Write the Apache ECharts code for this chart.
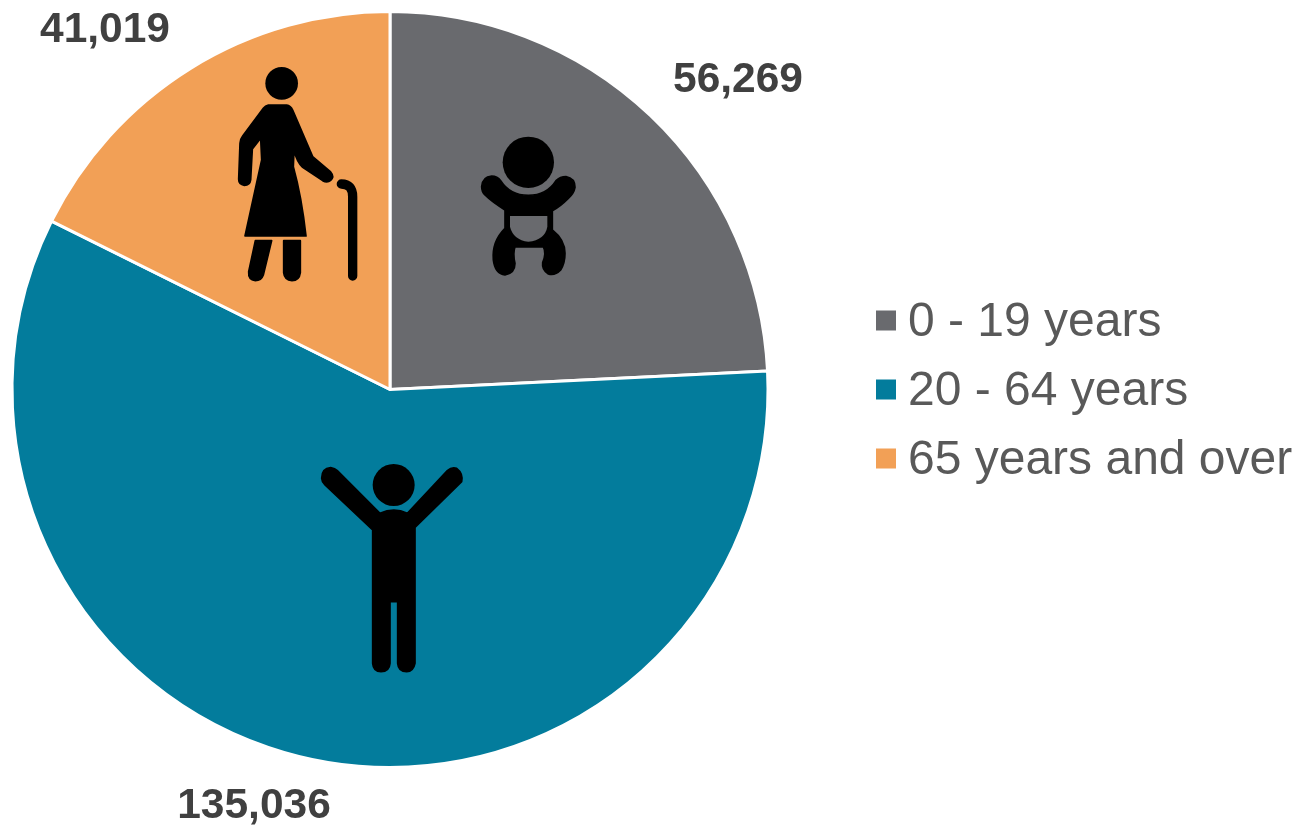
<!DOCTYPE html>
<html>
<head>
<meta charset="utf-8">
<style>html,body{margin:0;padding:0;background:#fff}#c{width:1310px;height:827px}</style>
<script src="https://cdn.jsdelivr.net/npm/echarts@6/dist/echarts.min.js"></script>
</head>
<body>
<div id="c"></div>
<script>
const categories = ['0 - 19 years', '20 - 64 years', '65 years and over'];
const values = [56269, 135036, 41019];
const colors = ['#696A6E', '#037C9C', '#F2A056'];
const labelSpots = [[738, 80], [254, 806], [105, 30]];

const fontFamily = '"Liberation Sans", Arial, sans-serif';
const black = '#000';
const iconZ = 50;
const iconStyle = { fill: black, stroke: black, lineWidth: 5, lineJoin: 'round' };

const iconPaths = {
  elderBody: 'M145 165 L200 165 Q212 167 218 180 L278 320 L332 366 Q344 380 332 391 Q322 400 308 392 L248 352 Q230 335 222 300 L220 350 Q245 440 258 558 L75 558 L125 330 L122 265 L97 297 L92 390 Q90 406 73 406 Q56 404 56 388 L60 280 Q60 268 68 258 L130 175 Q136 167 145 165 Z',
  elderLegL: 'M106 572 L155 572 L130 675 Q124 692 106 692 Q84 690 86 665 Z',
  elderLegR: 'M191 572 L241 572 L241 668 Q238 692 216 692 Q193 690 191 668 Z',
  elderCane: 'M364 402 Q398 402 398 440 L398 678',
  babyBody: 'M785 410 Q787 380 815 378 Q832 378 842 392 Q870 436 925 436 Q980 436 1008 392 Q1020 380 1038 380 Q1065 385 1065 412 Q1062 430 1045 445 Q1020 470 997 482 L997 540 Q1035 570 1035 610 Q1035 640 1022 660 Q1005 678 985 672 Q965 660 968 638 Q980 610 970 590 Q925 592 885 590 Q878 610 885 640 Q885 670 855 675 Q825 672 820 630 Q815 575 855 535 L855 480 Q815 455 795 435 Q785 425 785 410 Z',
  babyDiaper: 'M870 498 L982 498 L982 530 Q975 570 925 575 Q880 570 870 530 Z',
  adultBody: 'M65 85 Q65 55 92 53 Q105 55 112 62 L240 190 Q282 170 322 190 L442 62 Q455 50 470 55 Q490 70 485 95 L345 232 L345 640 Q340 665 320 665 Q295 665 293 640 L293 455 L270 455 L270 640 Q268 665 243 665 Q220 665 218 640 L218 240 L75 105 Q65 95 65 85 Z'
};
Object.keys(iconPaths).forEach(name => {
  echarts.graphic.registerShape(name, echarts.graphic.extendPath(iconPaths[name], {}));
});

const elderIcon = {
  type: 'group', x: 220, y: 50, scaleX: 1 / 3, scaleY: 1 / 3, silent: true,
  children: [
    { type: 'circle', z: iconZ, shape: { cx: 185, cy: 100, r: 49 }, style: { fill: black } },
    { type: 'elderBody', z: iconZ, style: iconStyle },
    { type: 'elderLegL', z: iconZ, style: iconStyle },
    { type: 'elderLegR', z: iconZ, style: iconStyle },
    { type: 'elderCane', z: iconZ, style: { fill: 'none', stroke: black, lineWidth: 28, lineCap: 'round' } }
  ]
};
const babyIcon = {
  type: 'group', x: 220, y: 50, scaleX: 1 / 3, scaleY: 1 / 3, silent: true,
  children: [
    { type: 'circle', z: iconZ, shape: { cx: 925, cy: 337, r: 77 }, style: { fill: black } },
    { type: 'babyBody', z: iconZ, style: iconStyle },
    { type: 'babyDiaper', z: iconZ + 1, style: { fill: colors[0] } }
  ]
};
const adultIcon = {
  type: 'group', x: 300, y: 450, scaleX: 1 / 3, scaleY: 1 / 3, silent: true,
  children: [
    { type: 'circle', z: iconZ, shape: { cx: 281, cy: 105, r: 63 }, style: { fill: black } },
    { type: 'adultBody', z: iconZ, style: iconStyle }
  ]
};

const chart = echarts.init(document.getElementById('c'), null, { renderer: 'canvas' });
chart.setOption({
  animation: false,
  backgroundColor: '#fff',
  color: colors,
  legend: {
    orient: 'vertical',
    left: 871,
    top: 293,
    itemWidth: 20,
    itemHeight: 24,
    itemGap: 20,
    icon: 'path://M0 0H20V20H0Z M0 24L20 24Z',
    selectedMode: false,
    itemStyle: { borderWidth: 0 },
    textStyle: { fontFamily, fontSize: 48, color: '#595959', lineHeight: 49, padding: [0, 0, 0, 7] },
    data: categories
  },
  series: [{
    type: 'pie',
    center: [390, 389.5],
    radius: [0, 378],
    startAngle: 90,
    clockwise: true,
    avoidLabelOverlap: false,
    silent: true,
    itemStyle: { borderColor: '#fff', borderWidth: 3 },
    label: {
      show: true,
      position: 'outside',
      formatter: p => p.value.toLocaleString('en-US'),
      fontFamily,
      fontSize: 42.5,
      fontWeight: 'bold',
      color: '#404040'
    },
    labelLine: { show: false },
    labelLayout: p => ({
      x: labelSpots[p.dataIndex][0],
      y: labelSpots[p.dataIndex][1],
      align: 'center',
      verticalAlign: 'middle'
    }),
    data: categories.map((name, i) => ({ name, value: values[i] }))
  }],
  graphic: { elements: [elderIcon, babyIcon, adultIcon] }
});
</script>
</body>
</html>
